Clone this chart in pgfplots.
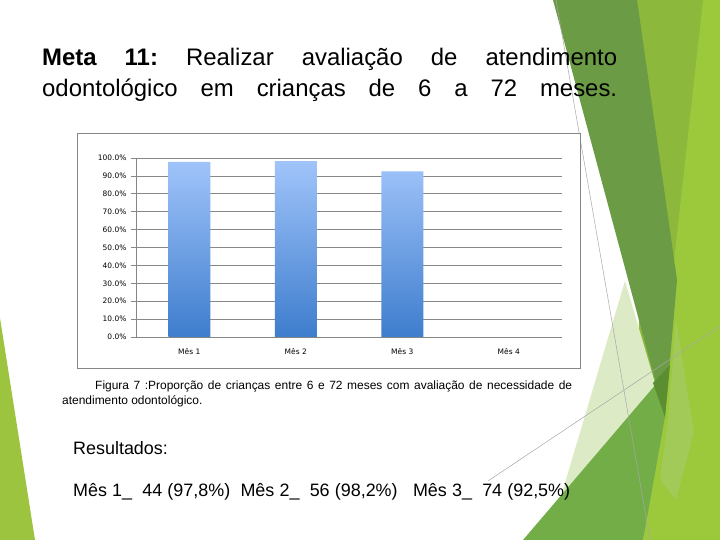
\documentclass[border=0pt]{standalone}
\usepackage{fontspec}
\setmainfont{Liberation Sans}
\newfontfamily\chartfont{DejaVu Sans}
\usepackage{pgfplots}
\pgfplotsset{compat=1.18}
\definecolor{darkgreen}{HTML}{6B9B45}
\definecolor{limegreen}{HTML}{8CB83C}
\definecolor{brightlime}{HTML}{9CC83B}
\definecolor{medgreen}{HTML}{72AD47}
\definecolor{palegreen}{HTML}{DCEBC5}
\definecolor{tipgreen}{HTML}{5A8E30}
\definecolor{softlime}{HTML}{A2CA58}
\definecolor{leftlime}{HTML}{9DC43F}
\definecolor{thinline}{HTML}{A8A8A8}
\definecolor{framegray}{HTML}{868686}
\definecolor{gridgray}{HTML}{888888}
\definecolor{barTop}{HTML}{A0C4FA}
\definecolor{barBot}{HTML}{3E7DCD}
\begin{document}
\begin{tikzpicture}[x=1bp,y=1bp]
\path[use as bounding box, fill=white] (0,0) rectangle (720,540);
% decorations
\fill[leftlime] (0,222) -- (0,0) -- (35,0) -- cycle;
\fill[limegreen] (637,540) -- (720,540) -- (720,0) -- (640,0) -- cycle;
\fill[brightlime] (703,540) -- (720,540) -- (720,0) -- (643,0) -- cycle;
\fill[softlime] (676,220) -- (694,108) -- (676,40) -- (660,60) -- (668,120) -- cycle;
\fill[palegreen] (625,259) -- (660,140) -- (643,0) -- (548,0) -- cycle;
\fill[darkgreen] (553,540) -- (637,540) -- (677,260) -- (665,123) -- cycle;
\fill[medgreen] (523,0) -- (657,157) -- (665,123) -- (643,0) -- cycle;
\fill[tipgreen] (653,157) -- (670,175) -- (665,123) -- cycle;
\draw[thinline, line width=0.5bp] (556,540) -- (650,0);
\draw[thinline, line width=0.5bp] (488,59) -- (720,214);
% title
\node[anchor=base west, inner sep=0pt] at (42,474) {\fontsize{24}{28}\selectfont\spaceskip=6bp plus 1fil\xspaceskip=6bp plus 1fil\hbox to 575bp{\textbf{Meta 11:} Realizar avaliação de atendimento}};
\node[anchor=base west, inner sep=0pt] at (42,443) {\fontsize{24}{28}\selectfont\spaceskip=6bp plus 1fil\xspaceskip=6bp plus 1fil\hbox to 575bp{odontológico em crianças de 6 a 72 meses.}};
% chart frame
\draw[framegray, line width=0.75bp, fill=white] (77,172) rectangle (580,407);
\begin{axis}[
  at={(136bp,203bp)}, anchor=south west,
  scale only axis, width=426bp, height=179bp,
  xmin=0.5, xmax=4.5, ymin=0, ymax=1,
  axis x line*=bottom, axis y line*=left,
  axis line style={framegray, line width=0.75bp},
  ytick={0,0.1,...,1.0},
  yticklabels={0.0\%,10.0\%,20.0\%,30.0\%,40.0\%,50.0\%,60.0\%,70.0\%,80.0\%,90.0\%,100.0\%},
  xtick={1,2,3,4},
  xticklabels={Mês 1,Mês 2,Mês 3,Mês 4},
  x tick style={draw=none},
  extra x ticks={0.5,1.5,2.5,3.5,4.5},
  extra x tick labels={},
  extra x tick style={grid=none, tick align=outside, major tick length=4bp, tick style={draw=framegray, line width=0.75bp}},
  y tick style={framegray, line width=0.75bp},
  tick align=outside, major tick length=5bp,
  ymajorgrids,
  grid style={gridgray, line width=0.75bp},
  tick label style={font=\chartfont\fontsize{7.5}{9}\selectfont, text=black},
  xticklabel style={yshift=-3bp},
  yticklabel style={xshift=-1bp},
  clip=false,
]
\addplot[ybar, bar width=42bp, draw=none, top color=barTop, bottom color=barBot]
  coordinates {(1,0.978) (2,0.982) (3,0.925)};
\end{axis}
% caption
\node[anchor=base west, inner sep=0pt] at (95,150) {\fontsize{12}{14}\selectfont\hbox to 477bp{Figura 7 :Proporção de crianças entre 6 e 72 meses com avaliação de necessidade de}};
\node[anchor=base west, inner sep=0pt] at (62,135) {\fontsize{12}{14}\selectfont atendimento odontológico.};
% results
\node[anchor=base west, inner sep=0pt] at (73,85) {\fontsize{18}{22}\selectfont Resultados:};
\node[anchor=base west, inner sep=0pt] at (73,43) {\fontsize{18}{22}\selectfont\hbox to 497bp{Mês 1\_\ \ 44 (97,8\%)\ \ Mês 2\_\ \ 56 (98,2\%)\ \ \ Mês 3\_\ \ 74 (92,5\%)}};
\end{tikzpicture}
\end{document}
